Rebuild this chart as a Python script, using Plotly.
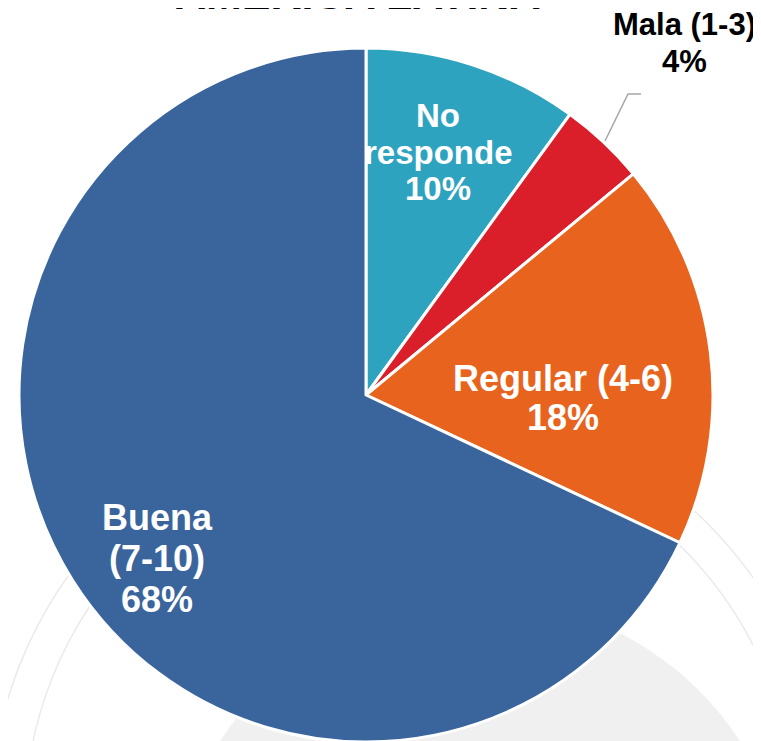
import plotly.graph_objects as go

# ---- data ----
categories = ["No responde", "Mala (1-3)", "Regular (4-6)", "Buena (7-10)"]
display_labels = ["No<br>responde", "Mala (1-3)", "Regular (4-6)", "Buena<br>(7-10)"]
values = [10, 4, 18, 68]
colors = ["#2EA3BF", "#DA1F2B", "#E8641E", "#3A649C"]
title_text = "AMÉRICA LATINA"

W, H = 761, 741
OFF = 8  # page body margin offset
FONT = "Liberation Sans, Arial, sans-serif"


def px(x):
    return (x - OFF) / W


def py(y):
    return 1 - (y - OFF) / H


fig = go.Figure()
fig.add_trace(go.Pie(
    labels=categories,
    values=values,
    marker=dict(colors=colors, line=dict(color="white", width=3)),
    sort=False,
    direction="clockwise",
    rotation=0,
    textinfo="none",
    hoverinfo="label+percent",
    showlegend=False,
    domain=dict(x=[px(19), px(713)], y=[py(742), py(48)]),
))

# label positions (pixel centre of block), line spacing, styles
label_pos = [(438, 152), (684, 43), (563, 398), (157, 558)]
label_gap = [37, 36, 39, 41]
label_color = ["white", "black", "white", "white"]
label_size = [33, 31, 36, 36]

annotations = []
for lab, val, (x, y), gap, c, s in zip(display_labels, values, label_pos, label_gap,
                                        label_color, label_size):
    lines = lab.split("<br>") + [f"{val}%"]
    n = len(lines)
    for i, ln in enumerate(lines):
        yy = y + (i - (n - 1) / 2) * gap
        annotations.append(dict(
            x=px(x), y=py(yy), xref="paper", yref="paper",
            text=ln, showarrow=False,
            xanchor="center", yanchor="middle", align="center",
            font=dict(family=FONT, size=s, color=c, weight="bold"),
        ))

annotations.append(dict(
    x=px(357), y=py(-6), xref="paper", yref="paper",
    text=title_text, showarrow=False, xanchor="center", yanchor="middle",
    font=dict(family=FONT, size=43, color="black", weight="bold"),
))

shapes = [
    # faint seal watermark
    dict(type="circle", xref="paper", yref="paper", layer="below",
         x0=px(170), x1=px(790), y0=py(1220), y1=py(600),
         fillcolor="#f0f0f0", line=dict(width=0)),
    dict(type="circle", xref="paper", yref="paper", layer="below",
         x0=px(-10), x1=px(830), y0=py(1240), y1=py(400),
         line=dict(color="#eaeaea", width=1.5)),
    dict(type="circle", xref="paper", yref="paper", layer="below",
         x0=px(25), x1=px(795), y0=py(1205), y1=py(435),
         line=dict(color="#eaeaea", width=1.5)),
    # leader line for Mala
    dict(type="path", xref="paper", yref="paper",
         path=f"M {px(605)} {py(141)} L {px(628)} {py(94)} L {px(641)} {py(94)}",
         line=dict(color="#A6A6A6", width=1.5)),
]

fig.update_layout(
    width=W, height=H,
    margin=dict(l=0, r=0, t=0, b=0),
    paper_bgcolor="white", plot_bgcolor="white",
    annotations=annotations,
    shapes=shapes,
)

fig.write_html("out.html")
